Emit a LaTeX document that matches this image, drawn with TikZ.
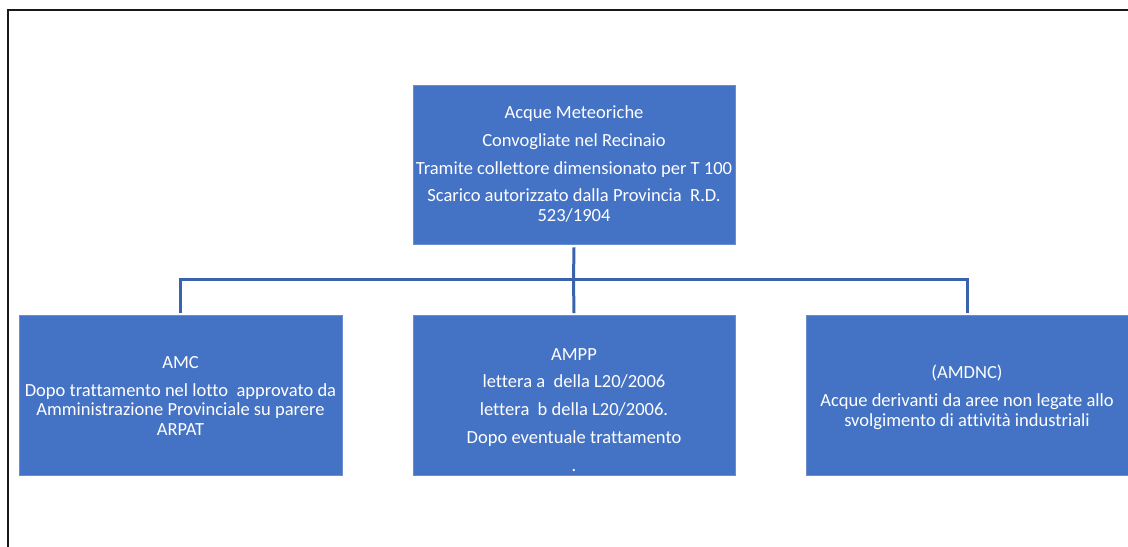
\documentclass[tikz,border=0pt]{standalone}
\usepackage{fontspec}
\setmainfont{Carlito}[Ligatures=NoCommon]
\definecolor{boxblue}{HTML}{4472C4}
\definecolor{lineblue}{HTML}{3A63AB}
\tikzset{
  bluebox/.style={rectangle, fill=boxblue, draw=boxblue!80!white, line width=0.6bp, inner sep=0pt},
  boxtext/.style={text=white, align=center, font=\fontsize{18.6}{20}\selectfont, inner sep=0pt},
  conn/.style={draw=lineblue, line width=3bp},
  frame/.style={draw=black!90, line width=2.5bp}
}
\begin{document}
\begin{tikzpicture}[x=1bp,y=-1bp]
\useasboundingbox (0,0) rectangle (1128,547);
\coordinate (fa) at (8,547);
\coordinate (fb) at (8,10);
\coordinate (fc) at (1128,10);
\draw[frame] (fa) -- (fb) -- (fc);

\node[bluebox, minimum width=322bp, minimum height=159bp] (top) at (574,164.5) {};
\node[bluebox, minimum width=323bp, minimum height=160bp] (amc) at (180.5,395.5) {};
\node[bluebox, minimum width=322bp, minimum height=160bp] (ampp) at (574,395.5) {};
\node[bluebox, minimum width=322bp, minimum height=160bp] (amdnc) at (967,395.5) {};

\node[boxtext] (ttop) at (574,164) {Acque Meteoriche\\[8bp] Convogliate nel Recinaio\\[8bp] Tramite collettore dimensionato per T 100\\[8bp] Scarico autorizzato dalla Provincia\ \ R.D.\\ 523/1904};
\node[boxtext] (tamc) at (180.5,396) {AMC\\[8bp] Dopo trattamento nel lotto\ \ approvato da\\ Amministrazione Provinciale su parere\\ ARPAT};
\node[boxtext] (tampp) at (574,410) {AMPP\\[8bp] lettera a\ \ della L20/2006\\[8bp] lettera\ \ b della L20/2006.\\[8bp] Dopo eventuale trattamento\\[8bp] .};
\node[boxtext] (tamdnc) at (967,397) {(AMDNC)\\[8bp] Acque derivanti da aree non legate allo\\ svolgimento di attività industriali};

\coordinate (hub) at (573.5,280);
\coordinate (hl) at (180.5,280);
\coordinate (hr) at (967,280);
\draw[conn] ([yshift=-3bp]top.south) -- (hub);
\draw[conn] (hub) -- ([yshift=2bp]ampp.north);
\draw[conn] ([xshift=-1.5bp]hl) -- ([xshift=1.5bp]hr);
\draw[conn] (hl) -- ([yshift=2bp]amc.north);
\draw[conn] (hr) -- ([yshift=2bp]amdnc.north);
\end{tikzpicture}
\end{document}
